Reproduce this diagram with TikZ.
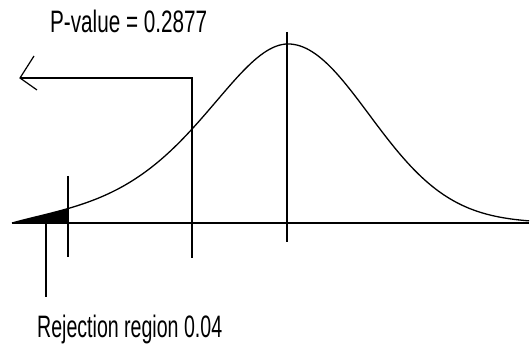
\documentclass[tikz,border=0pt]{standalone}
\usepackage{fontspec}
\setmainfont{Liberation Sans}
\usepackage{graphicx}
\begin{document}
\begin{tikzpicture}[x=1pt,y=-1pt,
  axisline/.style={line width=1.8pt},
  markline/.style={line width=1.6pt},
  curveline/.style={line width=1.3pt},
  lbl/.style={inner sep=0pt,anchor=base west,font=\fontsize{31}{32}\selectfont},
  declare function={lh(\d)=179*exp(-((\d)/(73+0.12*(\d)))^2/2)-6.1*((\d)/276)^8;
                    rh(\d)=179*exp(-((\d)/81)^2/2);}]
\useasboundingbox (0,0) rectangle (531,347);
% coordinates
\coordinate (axL) at (12,223);
\coordinate (axR) at (529,223);
\coordinate (peakT) at (287,32);
\coordinate (peakB) at (287,242);
\coordinate (critT) at (68,176);
\coordinate (critB) at (68,257);
\coordinate (rejT) at (46,223);
\coordinate (rejB) at (46,297);
\coordinate (pvB) at (192,258);
\coordinate (pvC) at (192,78);
\coordinate (pvTip) at (20,78);
\coordinate (headU) at (34,56);
\coordinate (headD) at (37,90);
% shaded rejection region
\fill[black] plot[domain=12:68,samples=25] (\x,{223-lh(288-\x)}) -- (68,223) -- cycle;
% axis
\draw[axisline] (axL) -- (axR);
% curve
\draw[curveline] plot[domain=12:288,samples=90] (\x,{223-lh(288-\x)})
  -- plot[domain=288:529,samples=80] (\x,{223-rh(\x-288)});
% vertical lines
\draw[markline] (peakT) -- (peakB);
\draw[markline] (critT) -- (critB);
\draw[markline] (rejT) -- (rejB);
% p-value arrow
\draw[markline] (pvB) -- (pvC) -- (pvTip);
\draw[line width=1.2pt] (headU) -- (pvTip) -- (headD);
% labels
\node[lbl] (pv) at (50,33) {\resizebox{157pt}{\height}{P-value = 0.2877}};
\node[lbl] (rej) at (37,338) {\resizebox{185pt}{\height}{Rejection region 0.04}};
\end{tikzpicture}
\end{document}
